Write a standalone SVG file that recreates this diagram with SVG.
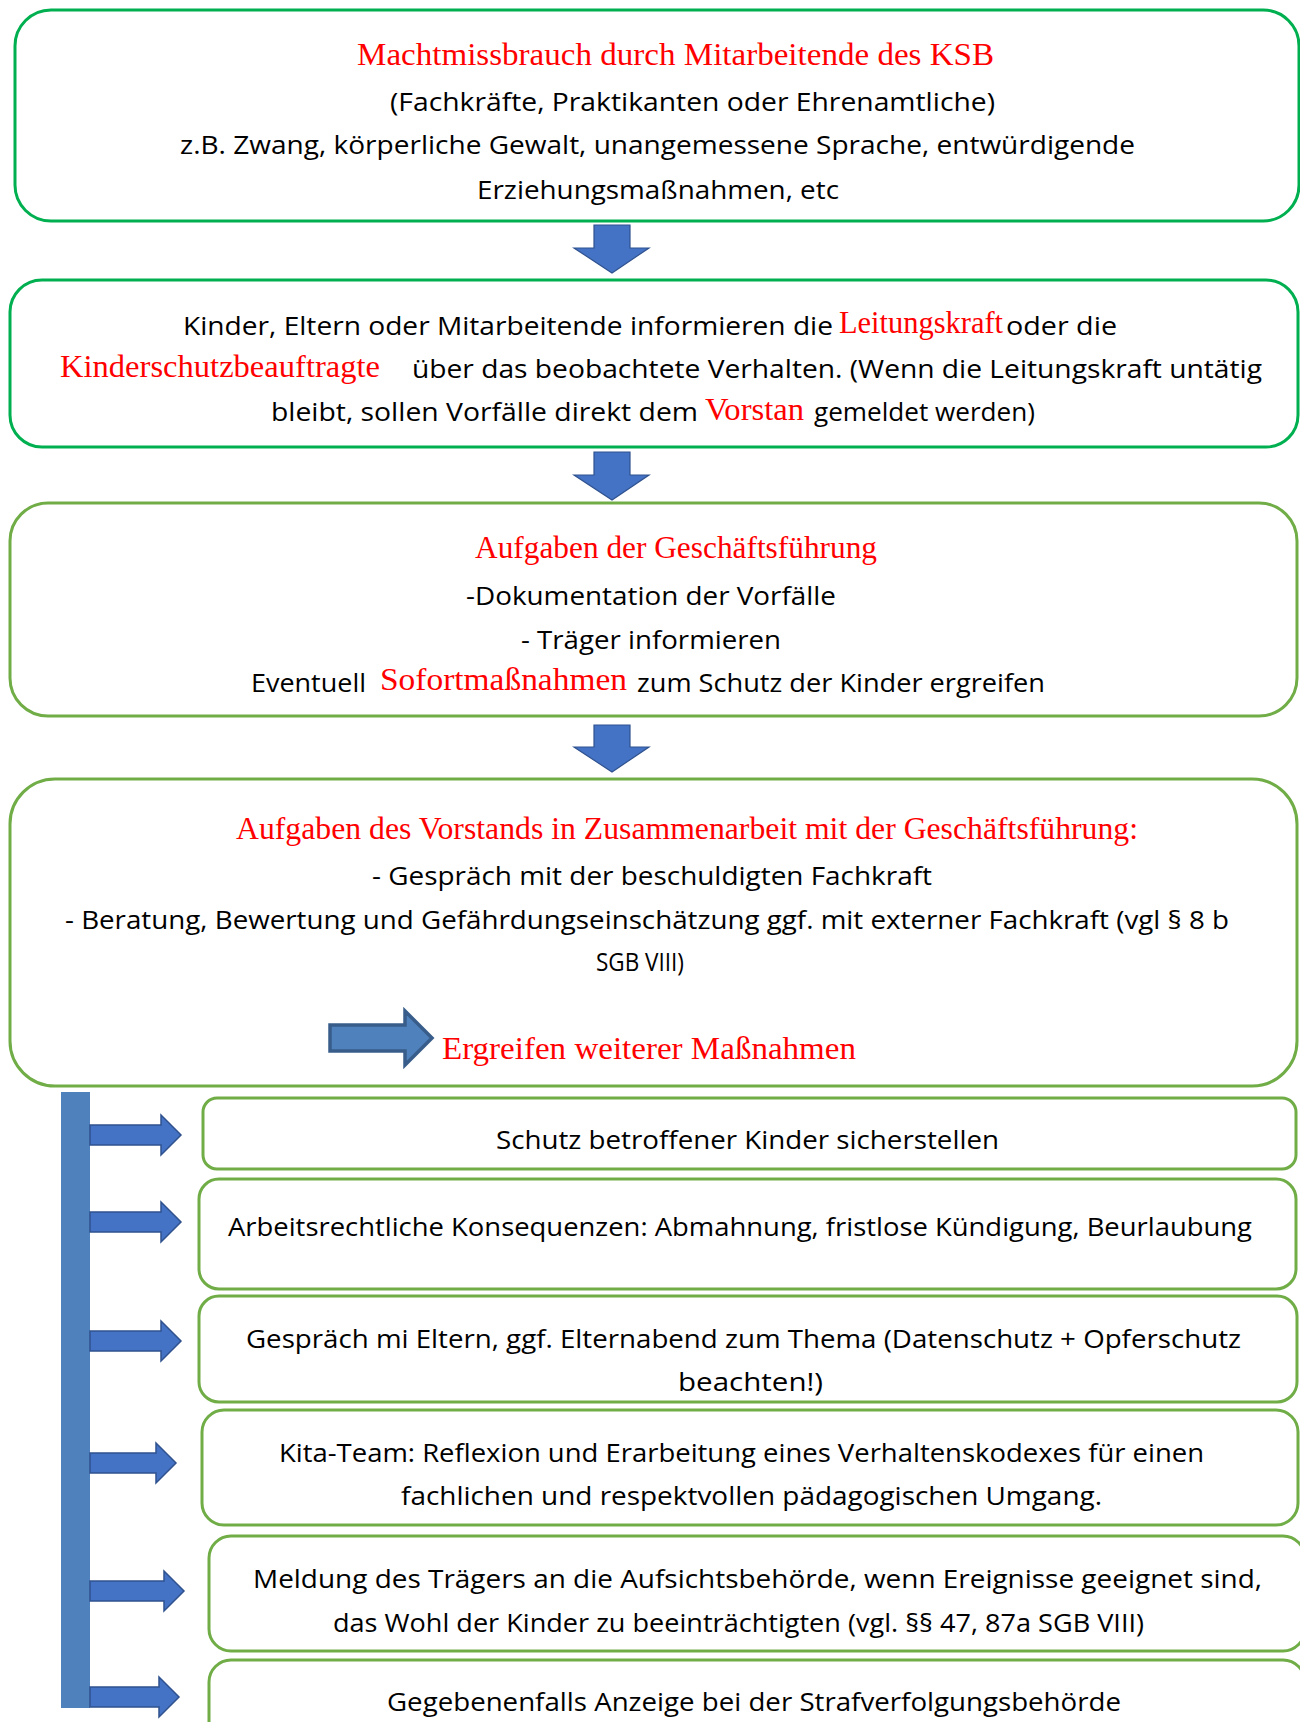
<svg xmlns="http://www.w3.org/2000/svg" width="1300" height="1722" viewBox="0 0 1300 1722">
<style>
.bx1{fill:#fff;stroke:#00B050;stroke-width:3}
.bx2{fill:#fff;stroke:#70AD47;stroke-width:3}
.t{font-family:"Open Sans","Liberation Sans",sans-serif;font-size:25px;fill:#000}
.r{font-family:"Liberation Serif","Times New Roman",serif;font-size:31px;fill:#FF0000}
.da{fill:#4472C4;stroke:#2F528F;stroke-width:1.2}
.sa{fill:#4472C4;stroke:#2F528F;stroke-width:1.5}
</style>
<rect width="1300" height="1722" fill="#fff"/>
<g id="connectors">
<polygon class="da" points="594,225 630,225 630,248 649,248 612,273 574,248 594,248"/>
<polygon class="da" points="594,452 630,452 630,475 649,475 612,500 574,475 594,475"/>
<polygon class="da" points="594,725 630,725 630,747 649,747 612,772 574,747 594,747"/>
<rect x="61" y="1092" width="29" height="616" fill="#4F81BD"/>
<polygon class="sa" points="90,1125 161,1125 161,1115 181,1135 161,1155 161,1145 90,1145"/>
<polygon class="sa" points="90,1212 161,1212 161,1202 181,1222 161,1242 161,1232 90,1232"/>
<polygon class="sa" points="90,1331 161,1331 161,1321 181,1341 161,1361 161,1351 90,1351"/>
<polygon class="sa" points="90,1453 156,1453 156,1443 176,1463 156,1483 156,1473 90,1473"/>
<polygon class="sa" points="90,1581 164,1581 164,1571 184,1591 164,1611 164,1601 90,1601"/>
<polygon class="sa" points="90,1687 159,1687 159,1677 179,1697 159,1717 159,1707 90,1707"/>
</g>
<g id="node1">
<rect class="bx1" x="15" y="10" width="1284" height="211" rx="36"/>
<text class="r" x="357" y="65" textLength="637" lengthAdjust="spacingAndGlyphs">Machtmissbrauch durch Mitarbeitende des KSB</text>
<text class="t" x="390" y="111" textLength="605" lengthAdjust="spacingAndGlyphs">(Fachkräfte, Praktikanten oder Ehrenamtliche)</text>
<text class="t" x="180" y="154" textLength="955" lengthAdjust="spacingAndGlyphs">z.B. Zwang, körperliche Gewalt, unangemessene Sprache, entwürdigende</text>
<text class="t" x="477" y="199" textLength="362" lengthAdjust="spacingAndGlyphs">Erziehungsmaßnahmen, etc</text>
</g>
<g id="node2">
<rect class="bx1" x="10" y="280" width="1288" height="167" rx="32"/>
<text class="t" x="183" y="335" textLength="650" lengthAdjust="spacingAndGlyphs">Kinder, Eltern oder Mitarbeitende informieren die</text>
<text class="r" x="839" y="333" textLength="164" lengthAdjust="spacingAndGlyphs">Leitungskraft</text>
<text class="t" x="1006" y="335" textLength="111" lengthAdjust="spacingAndGlyphs">oder die</text>
<text class="r" x="60" y="377" textLength="320" lengthAdjust="spacingAndGlyphs">Kinderschutzbeauftragte</text>
<text class="t" x="412" y="378" textLength="850" lengthAdjust="spacingAndGlyphs">über das beobachtete Verhalten. (Wenn die Leitungskraft untätig</text>
<text class="t" x="271" y="421" textLength="427" lengthAdjust="spacingAndGlyphs">bleibt, sollen Vorfälle  direkt dem</text>
<text class="r" x="705" y="420" textLength="99" lengthAdjust="spacingAndGlyphs">Vorstan</text>
<text class="t" x="814" y="421" textLength="221" lengthAdjust="spacingAndGlyphs">gemeldet werden)</text>
</g>
<g id="node3">
<rect class="bx2" x="10" y="503" width="1287" height="213" rx="38"/>
<text class="r" x="475" y="558" textLength="402" lengthAdjust="spacingAndGlyphs">Aufgaben der Geschäftsführung</text>
<text class="t" x="466" y="605" textLength="370" lengthAdjust="spacingAndGlyphs">-Dokumentation der Vorfälle</text>
<text class="t" x="521" y="649" textLength="260" lengthAdjust="spacingAndGlyphs">- Träger informieren</text>
<text class="t" x="251" y="692" textLength="115" lengthAdjust="spacingAndGlyphs">Eventuell</text>
<text class="r" x="380" y="690" textLength="247" lengthAdjust="spacingAndGlyphs">Sofortmaßnahmen</text>
<text class="t" x="637" y="692" textLength="408" lengthAdjust="spacingAndGlyphs">zum Schutz der Kinder ergreifen</text>
</g>
<g id="node4">
<rect class="bx2" x="10" y="779" width="1287" height="307" rx="45"/>
<text class="r" x="236" y="839" textLength="902" lengthAdjust="spacingAndGlyphs">Aufgaben des Vorstands in Zusammenarbeit mit der Geschäftsführung:</text>
<text class="t" x="372" y="885" textLength="560" lengthAdjust="spacingAndGlyphs">- Gespräch mit der beschuldigten Fachkraft</text>
<text class="t" x="65" y="929" textLength="1164" lengthAdjust="spacingAndGlyphs">- Beratung, Bewertung und Gefährdungseinschätzung ggf. mit externer Fachkraft (vgl § 8 b</text>
<text class="t" x="596" y="971" textLength="88" lengthAdjust="spacingAndGlyphs" style="font-size:26px">SGB VIII)</text>
<polygon points="330,1025 405,1025 405,1011 432,1038 405,1065 405,1051 330,1051" fill="#4F81BD" stroke="#385D8A" stroke-width="3.5" stroke-linejoin="miter"/>
<text class="r" x="442" y="1059" textLength="414" lengthAdjust="spacingAndGlyphs">Ergreifen weiterer Maßnahmen</text>
</g>
<g id="node5">
<rect class="bx2" x="203" y="1098" width="1093" height="71" rx="14"/>
<text class="t" x="496" y="1149" textLength="503" lengthAdjust="spacingAndGlyphs">Schutz betroffener Kinder sicherstellen</text>
</g>
<g id="node6">
<rect class="bx2" x="199" y="1179" width="1097" height="110" rx="20"/>
<text class="t" x="228" y="1236" textLength="1024" lengthAdjust="spacingAndGlyphs">Arbeitsrechtliche Konsequenzen: Abmahnung, fristlose Kündigung, Beurlaubung</text>
</g>
<g id="node7">
<rect class="bx2" x="199" y="1296" width="1098" height="106" rx="20"/>
<text class="t" x="246" y="1348" textLength="995" lengthAdjust="spacingAndGlyphs">Gespräch mi Eltern, ggf. Elternabend zum Thema (Datenschutz + Opferschutz</text>
<text class="t" x="678" y="1391" textLength="145" lengthAdjust="spacingAndGlyphs">beachten!)</text>
</g>
<g id="node8">
<rect class="bx2" x="202" y="1410" width="1096" height="115" rx="22"/>
<text class="t" x="279" y="1462" textLength="925" lengthAdjust="spacingAndGlyphs">Kita-Team: Reflexion und Erarbeitung eines Verhaltenskodexes für einen</text>
<text class="t" x="401" y="1505" textLength="701" lengthAdjust="spacingAndGlyphs">fachlichen und respektvollen pädagogischen Umgang.</text>
</g>
<g id="node9">
<rect class="bx2" x="209" y="1536" width="1096" height="115" rx="22"/>
<text class="t" x="253" y="1588" textLength="1009" lengthAdjust="spacingAndGlyphs">Meldung des Trägers an die Aufsichtsbehörde, wenn Ereignisse geeignet sind,</text>
<text class="t" x="333" y="1632" textLength="811" lengthAdjust="spacingAndGlyphs">das Wohl der Kinder zu beeinträchtigten (vgl. §§ 47, 87a SGB VIII)</text>
</g>
<g id="node10">
<rect class="bx2" x="209" y="1660" width="1096" height="100" rx="22"/>
<text class="t" x="387" y="1711" textLength="734" lengthAdjust="spacingAndGlyphs">Gegebenenfalls Anzeige bei der Strafverfolgungsbehörde</text>
</g>
</svg>
